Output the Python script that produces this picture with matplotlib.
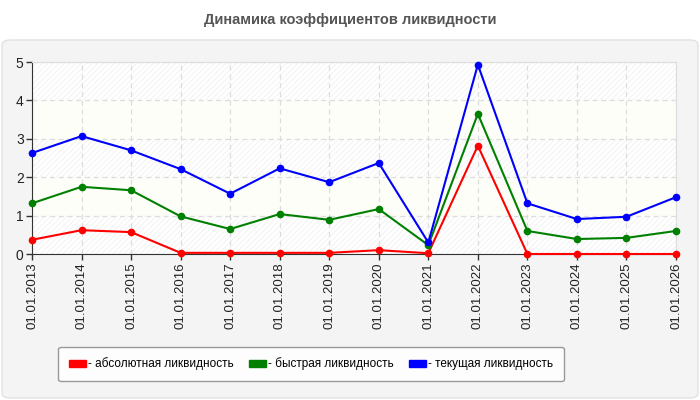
import matplotlib
matplotlib.use("Agg")
import matplotlib.pyplot as plt
from matplotlib.patches import FancyBboxPatch, Patch

plt.rcParams['font.family'] = ['Liberation Sans', 'DejaVu Sans']
plt.rcParams['hatch.linewidth'] = 0.6

dates = ["01.01.2013", "01.01.2014", "01.01.2015", "01.01.2016", "01.01.2017",
         "01.01.2018", "01.01.2019", "01.01.2020", "01.01.2021", "01.01.2022",
         "01.01.2023", "01.01.2024", "01.01.2025", "01.01.2026"]
absolute = [0.37, 0.62, 0.57, 0.03, 0.03, 0.03, 0.03, 0.10, 0.02, 2.82, 0.0, 0.0, 0.0, 0.0]
quick = [1.32, 1.75, 1.66, 0.98, 0.65, 1.04, 0.89, 1.17, 0.23, 3.65, 0.60, 0.39, 0.42, 0.60]
current = [2.63, 3.07, 2.70, 2.21, 1.57, 2.23, 1.87, 2.37, 0.30, 4.93, 1.32, 0.91, 0.97, 1.48]
series_names = ["- абсолютная ликвидность", "- быстрая ликвидность", "- текущая ликвидность"]
colors = ["#ff0000", "#008000", "#0000ff"]
title = "Динамика коэффициентов ликвидности"
yticks = [0, 1, 2, 3, 4, 5]

W, H = 700, 400
fig = plt.figure(figsize=(7, 4), dpi=100)
fig.patch.set_facecolor("white")

panel = FancyBboxPatch((2 / W, 2 / H), 696 / W, 358 / H,
                       boxstyle="round,pad=0,rounding_size=0.012",
                       transform=fig.transFigure, facecolor="#f4f4f4",
                       edgecolor="#e2e2e2", linewidth=1, zorder=-5)
fig.patches.append(panel)

fig.text(0.5, 1 - 20 / H, title, ha="center", va="center",
         fontsize=10.5, fontweight="bold", color="#555555")

ax = fig.add_axes([32 / W, 1 - 254 / H, 644 / W, 192 / H])
ax.set_zorder(2)
ax.set_facecolor("white")
x = list(range(len(dates)))
ax.set_xlim(0, len(dates) - 1)
ax.set_ylim(0, 5)

for i in range(5):
    if i % 2 == 0:
        ax.axhspan(i, i + 1, facecolor="white", edgecolor="#f1f1f1",
                   hatch="//////", linewidth=0, zorder=0)
    else:
        ax.axhspan(i, i + 1, facecolor="#fefef8", linewidth=0, zorder=0)

ax.grid(True, color="#dddddd", linestyle=(0, (4, 3)), linewidth=0.9)
ax.set_axisbelow(True)

for vals, c in zip([absolute, quick, current], colors):
    ax.plot(x, vals, color=c, linewidth=1.5, marker="o", markersize=4.5,
            zorder=3, clip_on=False)

ax.set_xticks(x)
ax.set_xticklabels(dates, rotation=90, fontsize=9.5, color="#222222")
ax.set_yticks(yticks)
ax.set_yticklabels([str(v) for v in yticks], fontsize=10, color="#222222")
ax.tick_params(axis="both", length=4, width=1, color="#333333", pad=2)
for s in ["top", "right"]:
    ax.spines[s].set_color("#dddddd")
for s in ["left", "bottom"]:
    ax.spines[s].set_color("#333333")

handles = [Patch(facecolor=c, edgecolor=c) for c in colors]
leg = fig.legend(handles, series_names, loc="center",
                 bbox_to_anchor=(311 / W, 1 - 364 / H), ncol=3,
                 fontsize=8.5, frameon=True, fancybox=True,
                 handlelength=1.4, handleheight=0.6, handletextpad=0.2,
                 columnspacing=1.3, borderpad=0.9, edgecolor="#999999",
                 facecolor="#fdfdfd")
leg.set_zorder(3)
leg.get_frame().set_linewidth(1)
leg.get_frame().set_alpha(1)

fig.savefig("out.png", dpi=100, facecolor="white")
